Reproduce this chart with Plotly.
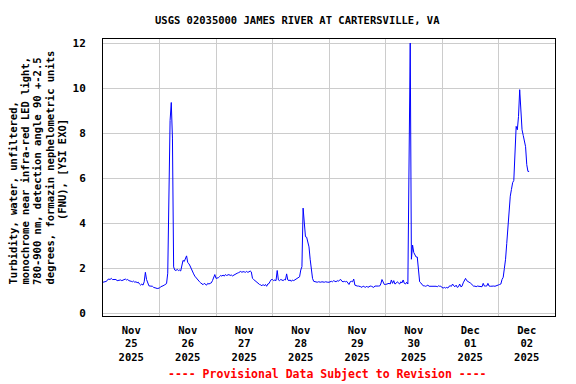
import pandas as pd
import plotly.graph_objects as go

# Turbidity (FNU), 30-minute readings
nov25 = [1.38, 1.40, 1.42, 1.42, 1.50, 1.52, 1.50, 1.55, 1.50, 1.50, 1.52, 1.50,
         1.45, 1.46, 1.45, 1.48, 1.45, 1.48, 1.50, 1.52, 1.48, 1.50, 1.45, 1.42,
         1.42, 1.40, 1.43, 1.38, 1.40, 1.36, 1.38, 1.30, 1.25, 1.30, 1.25, 1.40,
         1.82, 1.50, 1.36, 1.22, 1.21, 1.20, 1.20, 1.15, 1.12, 1.12, 1.10, 1.12]
nov26 = [1.12, 1.18, 1.22, 1.22, 1.25, 1.28, 1.32, 1.78, 5.48, 8.56, 9.36, 7.78,
         2.06, 1.92, 1.90, 1.95, 1.90, 1.92, 1.88, 2.10, 2.35, 2.30, 2.40, 2.55,
         2.25, 2.20, 2.10, 1.95, 1.85, 1.75, 1.65, 1.58, 1.50, 1.45, 1.40, 1.35,
         1.30, 1.27, 1.33, 1.30, 1.25, 1.33, 1.30, 1.33, 1.35, 1.45, 1.60, 1.72]
nov27 = [1.55, 1.55, 1.58, 1.63, 1.68, 1.65, 1.70, 1.65, 1.72, 1.68, 1.70, 1.72,
         1.68, 1.70, 1.66, 1.70, 1.72, 1.76, 1.78, 1.80, 1.82, 1.86, 1.82, 1.85,
         1.84, 1.82, 1.86, 1.82, 1.84, 1.88, 1.84, 1.55, 1.50, 1.45, 1.42, 1.36,
         1.30, 1.28, 1.26, 1.22, 1.28, 1.22, 1.28, 1.20, 1.30, 1.32, 1.42, 1.50]
nov28 = [1.50, 1.45, 1.48, 1.45, 1.90, 1.48, 1.45, 1.50, 1.48, 1.45, 1.50, 1.48,
         1.75, 1.48, 1.45, 1.48, 1.42, 1.48, 1.45, 1.48, 1.50, 1.55, 1.58, 1.62,
         1.92, 2.07, 4.67, 3.90, 3.40, 3.38, 3.20, 2.95, 2.40, 1.80, 1.55, 1.42,
         1.40, 1.38, 1.38, 1.40, 1.38, 1.38, 1.40, 1.38, 1.38, 1.40, 1.38, 1.38]
nov29 = [1.38, 1.40, 1.42, 1.40, 1.45, 1.42, 1.40, 1.45, 1.42, 1.48, 1.50, 1.42,
         1.40, 1.42, 1.40, 1.42, 1.35, 1.28, 1.40, 1.42, 1.40, 1.52, 1.25, 1.21,
         1.21, 1.21, 1.21, 1.18, 1.15, 1.21, 1.18, 1.15, 1.21, 1.15, 1.18, 1.21,
         1.20, 1.18, 1.15, 1.21, 1.20, 1.21, 1.21, 1.21, 1.30, 1.50, 1.35, 1.28]
nov30 = [1.28, 1.30, 1.30, 1.33, 1.30, 1.48, 1.33, 1.45, 1.30, 1.33, 1.40, 1.33,
         1.30, 1.40, 1.35, 1.48, 1.33, 1.30, 1.38, 1.30, 6.00, 12.0, 2.40, 3.03,
         2.70, 2.60, 2.50, 2.50, 1.85, 1.40, 1.35, 1.26, 1.22, 1.22, 1.20, 1.22,
         1.25, 1.20, 1.20, 1.22, 1.20, 1.20, 1.22, 1.20, 1.18, 1.22, 1.20, 1.20]
dec01 = [1.15, 1.12, 1.15, 1.12, 1.15, 1.12, 1.20, 1.22, 1.20, 1.30, 1.22, 1.18,
         1.25, 1.15, 1.18, 1.30, 1.18, 1.20, 1.35, 1.45, 1.55, 1.45, 1.40, 1.38,
         1.35, 1.30, 1.21, 1.20, 1.21, 1.18, 1.21, 1.21, 1.20, 1.21, 1.18, 1.33,
         1.21, 1.21, 1.21, 1.33, 1.21, 1.20, 1.21, 1.21, 1.21, 1.20, 1.21, 1.25]
dec02 = [1.26, 1.28, 1.30, 1.50, 1.60, 2.00, 2.40, 3.10, 3.85, 4.74, 5.20, 5.50,
         5.80, 5.90, 7.20, 8.30, 8.15, 8.74, 9.93, 9.00, 8.15, 7.90, 7.60, 7.40,
         6.60, 6.30, 6.30]

turbidity = nov25 + nov26 + nov27 + nov28 + nov29 + nov30 + dec01 + dec02
times = pd.date_range("2025-11-25 00:00", periods=len(turbidity), freq="30min")

day_starts = pd.date_range("2025-11-25", "2025-12-03", freq="D")
label_days = day_starts[:-1]
tick_positions = label_days + pd.Timedelta(hours=12)
tick_labels = [d.strftime("%b<br>%d<br>%Y") for d in label_days]

y_ticks = [0, 2, 4, 6, 8, 10, 12]

title_text = "USGS 02035000 JAMES RIVER AT CARTERSVILLE, VA"
ylabel_lines = [
    "Turbidity, water, unfiltered,",
    "monochrome near infra-red LED light,",
    "780-900 nm, detection angle 90 +-2.5",
    "degrees, formazin nephelometric units",
    "(FNU), [YSI EXO]",
]
footer_text = "---- Provisional Data Subject to Revision ----"

FONT = "DejaVu Sans Mono"
W, H = 576, 384
L, R, T, B = 103, 21, 39, 68
PW, PH = W - L - R, H - T - B


def px_x(px):
    return (px - L) / PW


def px_y(py):
    return (H - B - py) / PH


fig = go.Figure()
fig.add_trace(go.Scatter(
    x=times, y=turbidity, mode="lines",
    line=dict(color="#0000ff", width=1),
    hoverinfo="skip", showlegend=False,
))

grid = "#cccccc"
fig.update_layout(
    width=W, height=H,
    margin=dict(l=L, r=R, t=T, b=B),
    paper_bgcolor="white", plot_bgcolor="white",
    font=dict(family=FONT, color="black"),
    xaxis=dict(
        range=[day_starts[0], day_starts[-1]],
        tickmode="array", tickvals=tick_positions, ticktext=tick_labels,
        ticks="", showgrid=False, zeroline=False,
        tickfont=dict(family=FONT, size=10.5, color="black", weight="bold"),
        ticklabelstandoff=4,
        showline=True, mirror=True, linecolor="black", linewidth=1,
        minor=dict(tickmode="array", tickvals=day_starts[1:-1], showgrid=True,
                   gridcolor=grid, gridwidth=1, ticks=""),
    ),
    yaxis=dict(
        range=[-0.12, 12.18],
        tickmode="array", tickvals=y_ticks, ticktext=[str(v) for v in y_ticks],
        ticks="", showgrid=True, gridcolor=grid, gridwidth=1, zeroline=False,
        tickfont=dict(family=FONT, size=11, color="black", weight="bold"),
        ticklabelstandoff=14,
        showline=True, mirror=True, linecolor="black", linewidth=1,
    ),
)

annotations = [
    dict(text=title_text, x=px_x(297.5), y=px_y(20.5), xref="paper", yref="paper",
         xanchor="center", yanchor="middle", showarrow=False,
         font=dict(family=FONT, size=10.5, color="black", weight="bold")),
    dict(text=footer_text, x=px_x(327.5), y=px_y(374.5), xref="paper", yref="paper",
         xanchor="center", yanchor="middle", showarrow=False,
         font=dict(family=FONT, size=11.5, color="#ff0000", weight="bold")),
]

line_x = [12, 24.5, 37, 49.5, 62]
for i, txt in enumerate(ylabel_lines):
    if i < 4:
        annotations.append(dict(
            text=txt, x=px_x(line_x[i]), y=px_y(287), xref="paper", yref="paper",
            xanchor="center", yanchor="bottom", textangle=-90, showarrow=False,
            font=dict(family=FONT, size=10.5, color="black", weight="bold")))
    else:
        annotations.append(dict(
            text=txt, x=px_x(line_x[i]), y=px_y(170), xref="paper", yref="paper",
            xanchor="center", yanchor="middle", textangle=-90, showarrow=False,
            font=dict(family=FONT, size=10.5, color="black", weight="bold")))

fig.update_layout(annotations=annotations)

fig.write_html(
    "out.html",
    config={"displayModeBar": False},
    post_script="document.body.style.margin='0px';document.body.style.padding='0px';",
)
